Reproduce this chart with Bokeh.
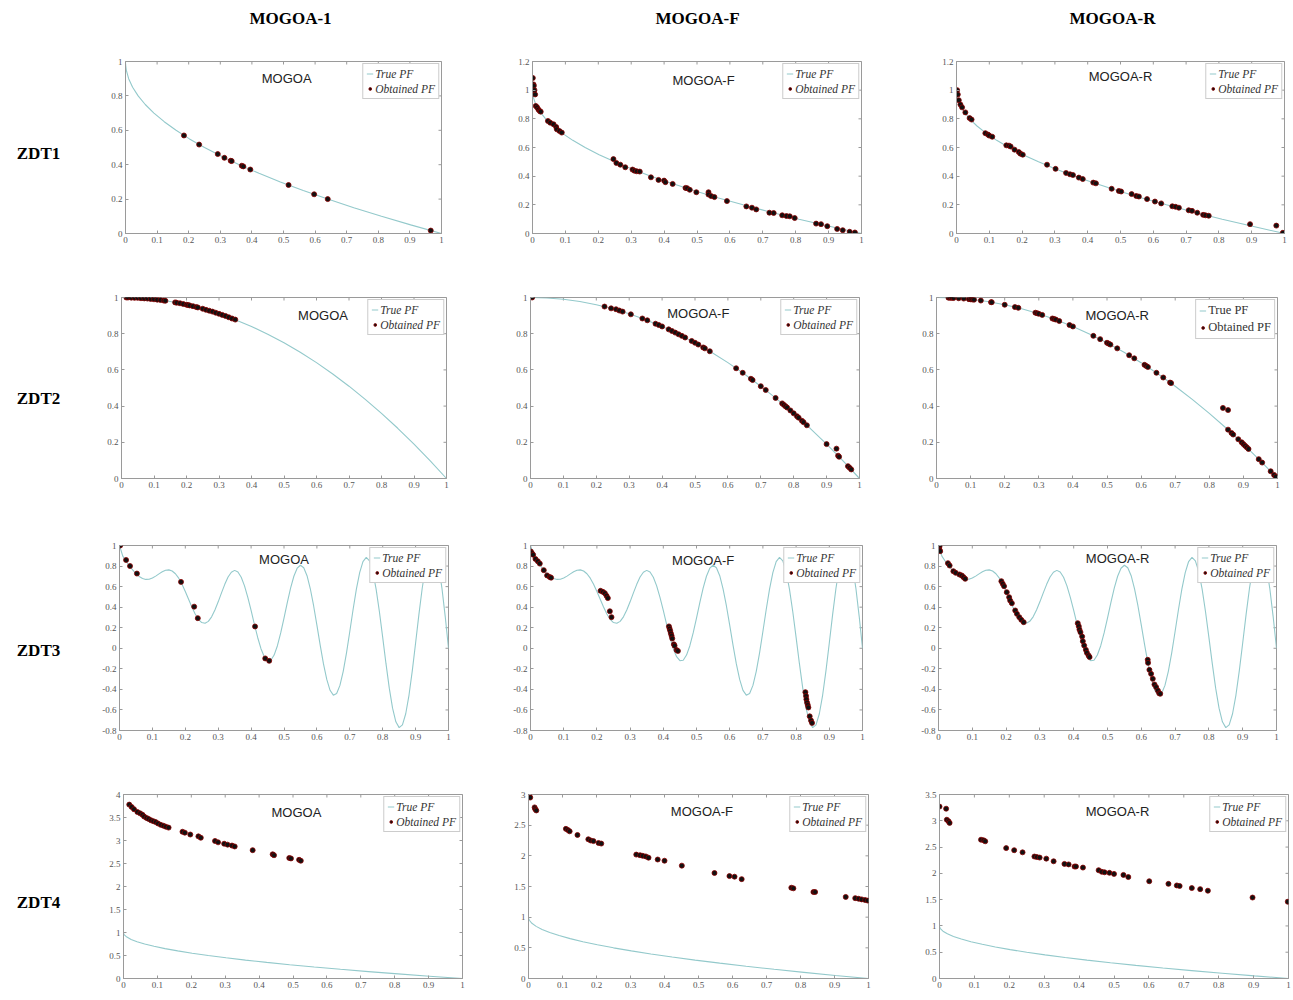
import math
from bokeh.plotting import figure
from bokeh.layouts import column, row
from bokeh.models import Range1d, FixedTicker, Legend, LegendItem, Label
from bokeh.core.properties import value
from bokeh.embed import file_html
from bokeh.resources import INLINE

# ---------------- data ----------------
col_titles = ["MOGOA-1", "MOGOA-F", "MOGOA-R"]
row_titles = ["ZDT1", "ZDT2", "ZDT3", "ZDT4"]
panel_names = ["MOGOA", "MOGOA-F", "MOGOA-R"]
legend_labels = ["True PF", "Obtained PF"]

x_ticks = [0.0, 0.1, 0.2, 0.3, 0.4, 0.5, 0.6, 0.7, 0.8, 0.9, 1.0]
x_tick_labels = ["0", "0.1", "0.2", "0.3", "0.4", "0.5", "0.6", "0.7", "0.8", "0.9", "1"]
y_ticks_1 = [0.0, 0.2, 0.4, 0.6, 0.8, 1.0]
y_tick_labels_1 = ["0", "0.2", "0.4", "0.6", "0.8", "1"]
y_ticks_12 = [0.0, 0.2, 0.4, 0.6, 0.8, 1.0, 1.2]
y_tick_labels_12 = ["0", "0.2", "0.4", "0.6", "0.8", "1", "1.2"]
y_ticks_z3 = [-0.8, -0.6, -0.4, -0.2, 0.0, 0.2, 0.4, 0.6, 0.8, 1.0]
y_tick_labels_z3 = ["-0.8", "-0.6", "-0.4", "-0.2", "0", "0.2", "0.4", "0.6", "0.8", "1"]
y_ticks_4 = [0.0, 0.5, 1.0, 1.5, 2.0, 2.5, 3.0, 3.5, 4.0]
y_tick_labels_4 = ["0", "0.5", "1", "1.5", "2", "2.5", "3", "3.5", "4"]
y_ticks_3 = [0.0, 0.5, 1.0, 1.5, 2.0, 2.5, 3.0]
y_tick_labels_3 = ["0", "0.5", "1", "1.5", "2", "2.5", "3"]
y_ticks_35 = [0.0, 0.5, 1.0, 1.5, 2.0, 2.5, 3.0, 3.5]
y_tick_labels_35 = ["0", "0.5", "1", "1.5", "2", "2.5", "3", "3.5"]

# true Pareto fronts
convex_pf_x = [0, 0.0001, 0.0004, 0.0025, 0.01, 0.0225, 0.04, 0.0625, 0.09, 0.1225, 0.16,
               0.2025, 0.25, 0.3025, 0.36, 0.4225, 0.49, 0.5625, 0.64, 0.7225, 0.81, 0.9025, 1.0]
convex_pf_y = [1.0, 0.99, 0.98, 0.95, 0.9, 0.85, 0.8, 0.75, 0.7, 0.65, 0.6,
               0.55, 0.5, 0.45, 0.4, 0.35, 0.3, 0.25, 0.2, 0.15, 0.1, 0.05, 0.0]
concave_pf_x = [0, 0.05, 0.1, 0.15, 0.2, 0.25, 0.3, 0.35, 0.4, 0.45, 0.5,
                0.55, 0.6, 0.65, 0.7, 0.75, 0.8, 0.85, 0.9, 0.95, 1.0]
concave_pf_y = [1.0, 0.9975, 0.99, 0.9775, 0.96, 0.9375, 0.91, 0.8775, 0.84, 0.7975, 0.75,
                0.6975, 0.64, 0.5775, 0.51, 0.4375, 0.36, 0.2775, 0.19, 0.0975, 0.0]
zdt3_pf_x = [k / 100 for k in range(101)]
zdt3_pf_y = [1.000, 0.897, 0.847, 0.803, 0.762, 0.726, 0.698, 0.679, 0.670, 0.672,
             0.684, 0.702, 0.724, 0.745, 0.759, 0.763, 0.752, 0.725, 0.682, 0.623,
             0.553, 0.477, 0.402, 0.334, 0.282, 0.250, 0.243, 0.262, 0.306, 0.372,
             0.452, 0.539, 0.622, 0.693, 0.740, 0.758, 0.742, 0.691, 0.607, 0.496,
             0.368, 0.233, 0.105, -0.004, -0.082, -0.121, -0.116, -0.066, 0.025, 0.149,
             0.293, 0.444, 0.585, 0.701, 0.779, 0.808, 0.784, 0.706, 0.579, 0.414,
             0.225, 0.031, -0.152, -0.303, -0.409, -0.456, -0.440, -0.361, -0.224, -0.044,
             0.163, 0.377, 0.575, 0.736, 0.844, 0.884, 0.851, 0.745, 0.575, 0.355,
             0.106, -0.150, -0.388, -0.583, -0.715, -0.772, -0.745, -0.637, -0.455, -0.218,
             0.051, 0.327, 0.582, 0.788, 0.925, 0.975, 0.933, 0.800, 0.586, 0.311, 0.000]

# obtained fronts
zdt1_m1_x = [0.185, 0.233, 0.292, 0.313, 0.333, 0.336, 0.368, 0.373, 0.395, 0.516, 0.597, 0.640, 0.966]
zdt1_m1_y = [0.570, 0.517, 0.462, 0.440, 0.423, 0.421, 0.394, 0.390, 0.372, 0.282, 0.228, 0.200, 0.017]

zdt1_mf_x = [0.001, 0.003, 0.004, 0.006, 0.008, 0.010, 0.014, 0.018, 0.022, 0.025,
             0.047, 0.054, 0.064, 0.072, 0.074, 0.082, 0.089, 0.246, 0.255, 0.267,
             0.282, 0.304, 0.310, 0.317, 0.326, 0.360, 0.383, 0.400, 0.404, 0.426,
             0.465, 0.470, 0.478, 0.498, 0.535, 0.535, 0.543, 0.553, 0.591, 0.650,
             0.667, 0.680, 0.720, 0.733, 0.759, 0.772, 0.782, 0.797, 0.862, 0.877,
             0.896, 0.926, 0.943, 0.964, 0.980]
zdt1_mf_y = [1.085, 1.040, 1.030, 1.000, 0.970, 0.890, 0.880, 0.865, 0.855, 0.850,
             0.785, 0.773, 0.762, 0.743, 0.727, 0.715, 0.704, 0.519, 0.492, 0.480,
             0.462, 0.446, 0.438, 0.434, 0.432, 0.392, 0.374, 0.369, 0.358, 0.346,
             0.318, 0.316, 0.305, 0.288, 0.288, 0.272, 0.261, 0.254, 0.226, 0.189,
             0.180, 0.168, 0.145, 0.143, 0.127, 0.122, 0.120, 0.108, 0.069, 0.065,
             0.051, 0.032, 0.023, 0.012, 0.007]

zdt1_mr_x = [0.002, 0.004, 0.007, 0.012, 0.017, 0.027, 0.040, 0.046, 0.088, 0.096,
             0.100, 0.109, 0.152, 0.160, 0.165, 0.177, 0.190, 0.195, 0.202, 0.276,
             0.302, 0.334, 0.346, 0.355, 0.373, 0.385, 0.417, 0.425, 0.473, 0.495,
             0.502, 0.534, 0.548, 0.556, 0.581, 0.605, 0.624, 0.658, 0.668, 0.678,
             0.708, 0.718, 0.734, 0.752, 0.759, 0.769, 0.895, 0.975, 0.995]
zdt1_mr_y = [1.000, 0.970, 0.930, 0.900, 0.880, 0.845, 0.805, 0.795, 0.700, 0.690,
             0.683, 0.675, 0.615, 0.613, 0.607, 0.585, 0.568, 0.557, 0.550, 0.480,
             0.451, 0.422, 0.413, 0.408, 0.390, 0.380, 0.355, 0.350, 0.312, 0.297,
             0.293, 0.275, 0.262, 0.258, 0.240, 0.223, 0.210, 0.190, 0.186, 0.180,
             0.162, 0.158, 0.145, 0.130, 0.127, 0.124, 0.065, 0.055, 0.005]

zdt2_m1_x = [0.015, 0.02, 0.03, 0.04, 0.05, 0.06, 0.07, 0.08, 0.09, 0.10,
             0.11, 0.12, 0.13, 0.135, 0.165, 0.17, 0.18, 0.19, 0.20, 0.205,
             0.21, 0.22, 0.23, 0.235, 0.25, 0.26, 0.27, 0.28, 0.29, 0.30,
             0.31, 0.32, 0.33, 0.34, 0.35]
zdt2_m1_y = [1.000, 1.000, 0.999, 0.998, 0.998, 0.996, 0.995, 0.994, 0.992, 0.990,
             0.988, 0.986, 0.983, 0.982, 0.973, 0.971, 0.968, 0.964, 0.960, 0.958,
             0.956, 0.952, 0.947, 0.945, 0.938, 0.932, 0.927, 0.922, 0.916, 0.910,
             0.904, 0.898, 0.891, 0.884, 0.878]

zdt2_mf_x = [0.005, 0.225, 0.245, 0.26, 0.27, 0.28, 0.305, 0.34, 0.355, 0.38,
             0.39, 0.40, 0.42, 0.43, 0.44, 0.45, 0.46, 0.47, 0.49, 0.50,
             0.51, 0.525, 0.53, 0.545, 0.625, 0.645, 0.67, 0.675, 0.70, 0.715,
             0.745, 0.765, 0.77, 0.775, 0.78, 0.79, 0.80, 0.81, 0.815, 0.825,
             0.83, 0.84, 0.90, 0.93, 0.935, 0.938, 0.965, 0.97, 0.975]
zdt2_mf_y = [1.000, 0.950, 0.940, 0.935, 0.928, 0.922, 0.907, 0.884, 0.874, 0.855,
             0.848, 0.840, 0.824, 0.815, 0.806, 0.797, 0.788, 0.779, 0.760, 0.750,
             0.740, 0.724, 0.719, 0.703, 0.609, 0.584, 0.551, 0.544, 0.510, 0.489,
             0.445, 0.415, 0.407, 0.399, 0.392, 0.376, 0.360, 0.344, 0.336, 0.319,
             0.311, 0.294, 0.190, 0.165, 0.126, 0.120, 0.068, 0.059, 0.050]

zdt2_mr_x = [0.035, 0.040, 0.045, 0.050, 0.065, 0.080, 0.095, 0.100, 0.105, 0.110,
             0.130, 0.160, 0.162, 0.200, 0.230, 0.240, 0.290, 0.295, 0.300, 0.310,
             0.340, 0.345, 0.350, 0.360, 0.390, 0.400, 0.460, 0.480, 0.500, 0.505,
             0.510, 0.530, 0.565, 0.580, 0.610, 0.615, 0.620, 0.645, 0.665, 0.685,
             0.688, 0.840, 0.855, 0.855, 0.865, 0.870, 0.885, 0.895, 0.900, 0.905,
             0.910, 0.915, 0.945, 0.955, 0.980, 0.990, 0.995]
zdt2_mr_y = [0.999, 0.998, 0.998, 0.997, 0.996, 0.994, 0.991, 0.990, 0.989, 0.988,
             0.983, 0.974, 0.974, 0.960, 0.947, 0.943, 0.916, 0.913, 0.910, 0.904,
             0.884, 0.881, 0.878, 0.870, 0.848, 0.840, 0.788, 0.770, 0.750, 0.745,
             0.740, 0.719, 0.681, 0.664, 0.628, 0.622, 0.616, 0.584, 0.558, 0.530,
             0.527, 0.390, 0.378, 0.270, 0.252, 0.243, 0.217, 0.200, 0.190, 0.181,
             0.172, 0.163, 0.107, 0.088, 0.040, 0.020, 0.010]

zdt3_m1_x = [0.002, 0.020, 0.032, 0.053, 0.187, 0.227, 0.238, 0.412, 0.443, 0.455]
zdt3_m1_y = [1.000, 0.859, 0.800, 0.727, 0.646, 0.405, 0.293, 0.212, -0.099, -0.122]

zdt3_mf_x = [0.001, 0.004, 0.008, 0.015, 0.022, 0.028, 0.040, 0.050, 0.058, 0.062,
             0.211, 0.218, 0.224, 0.229, 0.233, 0.239, 0.244,
             0.417, 0.419, 0.421, 0.423, 0.425, 0.427, 0.432, 0.434, 0.440, 0.444,
             0.828, 0.830, 0.831, 0.833, 0.835, 0.837, 0.841, 0.845, 0.848]
zdt3_mf_y = [0.942, 0.926, 0.910, 0.869, 0.847, 0.824, 0.760, 0.709, 0.693, 0.687,
             0.559, 0.549, 0.536, 0.511, 0.488, 0.360, 0.303,
             0.213, 0.191, 0.169, 0.143, 0.121, 0.095, 0.038, 0.025, -0.017, -0.026,
             -0.427, -0.464, -0.496, -0.528, -0.551, -0.576, -0.662, -0.703, -0.726]

zdt3_mr_x = [0.003, 0.003, 0.005, 0.028, 0.033, 0.044, 0.051, 0.062, 0.069, 0.074, 0.079,
             0.186, 0.190, 0.194, 0.202, 0.209, 0.212, 0.217, 0.227, 0.232, 0.239, 0.245, 0.252,
             0.412, 0.415, 0.417, 0.420, 0.425, 0.427, 0.431, 0.436, 0.439, 0.444, 0.447,
             0.619, 0.620, 0.624, 0.629, 0.634, 0.639, 0.644, 0.649, 0.653, 0.656]
zdt3_mr_y = [0.990, 0.958, 0.945, 0.828, 0.805, 0.750, 0.734, 0.718, 0.708, 0.692, 0.676,
             0.653, 0.627, 0.604, 0.546, 0.497, 0.465, 0.439, 0.368, 0.335, 0.303, 0.277, 0.254,
             0.244, 0.215, 0.183, 0.157, 0.115, 0.069, 0.027, -0.015, -0.044, -0.070, -0.086,
             -0.112, -0.142, -0.210, -0.249, -0.297, -0.352, -0.378, -0.411, -0.437, -0.443]

zdt4_m1_x = [0.017, 0.024, 0.031, 0.041, 0.049, 0.056, 0.061, 0.068, 0.074, 0.081,
             0.088, 0.095, 0.102, 0.110, 0.118, 0.125, 0.133, 0.174, 0.181, 0.197,
             0.221, 0.228, 0.270, 0.279, 0.297, 0.307, 0.320, 0.328, 0.381, 0.440,
             0.444, 0.489, 0.494, 0.518, 0.523]
zdt4_m1_y = [3.78, 3.73, 3.68, 3.62, 3.59, 3.56, 3.52, 3.49, 3.47, 3.44,
             3.42, 3.40, 3.37, 3.34, 3.32, 3.30, 3.28, 3.19, 3.17, 3.13,
             3.09, 3.06, 2.99, 2.96, 2.93, 2.91, 2.89, 2.87, 2.79, 2.70,
             2.68, 2.62, 2.61, 2.58, 2.56]

zdt4_mf_x = [0.000, 0.003, 0.005, 0.018, 0.020, 0.023, 0.110, 0.116, 0.121, 0.144,
             0.176, 0.183, 0.191, 0.206, 0.214, 0.317, 0.328, 0.336, 0.345, 0.353,
             0.380, 0.400, 0.451, 0.547, 0.591, 0.606, 0.627, 0.773, 0.779, 0.838,
             0.843, 0.933, 0.961, 0.971, 0.980, 0.990, 0.998]
zdt4_mf_y = [3.00, 2.97, 2.95, 2.79, 2.76, 2.74, 2.44, 2.42, 2.40, 2.34,
             2.27, 2.25, 2.24, 2.21, 2.20, 2.02, 2.01, 2.00, 1.99, 1.97,
             1.94, 1.92, 1.84, 1.72, 1.67, 1.66, 1.62, 1.48, 1.47, 1.41,
             1.41, 1.33, 1.31, 1.30, 1.29, 1.28, 1.27]

zdt4_mr_x = [0.000, 0.019, 0.021, 0.026, 0.029, 0.119, 0.126, 0.131, 0.191, 0.214,
             0.238, 0.272, 0.279, 0.287, 0.306, 0.327, 0.358, 0.370, 0.387, 0.391,
             0.411, 0.456, 0.465, 0.473, 0.487, 0.500, 0.527, 0.541, 0.601, 0.656,
             0.680, 0.688, 0.723, 0.747, 0.769, 0.897, 0.998]
zdt4_mr_y = [3.27, 3.23, 3.02, 2.99, 2.96, 2.64, 2.63, 2.61, 2.48, 2.44,
             2.40, 2.32, 2.31, 2.30, 2.28, 2.23, 2.18, 2.17, 2.13, 2.13,
             2.11, 2.06, 2.03, 2.02, 2.01, 1.99, 1.97, 1.93, 1.85, 1.80,
             1.77, 1.76, 1.72, 1.70, 1.67, 1.54, 1.46]

# ---------------- styling / layout ----------------
PF_COLOR = "#93c9cb"
AX_COLOR = "#9a9a9a"
SERIF = "Liberation Serif"

panels = [
    # (pf x, pf y, pts x, pts y, y range, y ticks, y labels, name pos, italic legend)
    [(convex_pf_x, convex_pf_y, zdt1_m1_x, zdt1_m1_y, (0, 1), y_ticks_1, y_tick_labels_1, (0.51, 0.10), True),
     (convex_pf_x, convex_pf_y, zdt1_mf_x, zdt1_mf_y, (0, 1.2), y_ticks_12, y_tick_labels_12, (0.52, 0.11), True),
     (convex_pf_x, convex_pf_y, zdt1_mr_x, zdt1_mr_y, (0, 1.2), y_ticks_12, y_tick_labels_12, (0.50, 0.09), True)],
    [(concave_pf_x, concave_pf_y, zdt2_m1_x, zdt2_m1_y, (0, 1), y_ticks_1, y_tick_labels_1, (0.62, 0.10), True),
     (concave_pf_x, concave_pf_y, zdt2_mf_x, zdt2_mf_y, (0, 1), y_ticks_1, y_tick_labels_1, (0.51, 0.09), True),
     (concave_pf_x, concave_pf_y, zdt2_mr_x, zdt2_mr_y, (0, 1), y_ticks_1, y_tick_labels_1, (0.53, 0.10), False)],
    [(zdt3_pf_x, zdt3_pf_y, zdt3_m1_x, zdt3_m1_y, (-0.8, 1), y_ticks_z3, y_tick_labels_z3, (0.50, 0.075), True),
     (zdt3_pf_x, zdt3_pf_y, zdt3_mf_x, zdt3_mf_y, (-0.8, 1), y_ticks_z3, y_tick_labels_z3, (0.52, 0.08), True),
     (zdt3_pf_x, zdt3_pf_y, zdt3_mr_x, zdt3_mr_y, (-0.8, 1), y_ticks_z3, y_tick_labels_z3, (0.53, 0.07), True)],
    [(convex_pf_x, convex_pf_y, zdt4_m1_x, zdt4_m1_y, (0, 4), y_ticks_4, y_tick_labels_4, (0.51, 0.10), True),
     (convex_pf_x, convex_pf_y, zdt4_mf_x, zdt4_mf_y, (0, 3), y_ticks_3, y_tick_labels_3, (0.51, 0.09), True),
     (convex_pf_x, convex_pf_y, zdt4_mr_x, zdt4_mr_y, (0, 3.5), y_ticks_35, y_tick_labels_35, (0.51, 0.09), True)],
]

LABEL_W = 90
COL_W = [402, 413, 388]
ROW_H = [222, 246, 249, 243]
HEADER_H = 40
# per row, per column: (left, right, top, bottom) borders
BORDERS = [
    [(35, 51, 17, 29), (40, 44, 20, 29), (51, 9, 21, 29)],
    [(31, 46, 30, 30), (38, 46, 35, 30), (31, 16, 32, 30)],
    [(29, 44, 35, 27), (38, 43, 34, 27), (33, 17, 37, 27)],
    [(33, 30, 33, 15), (36, 37, 32, 18), (34, 5, 37, 22)],
]
ROW_LABEL_POS = [(38, 119), (38, 137), (38, 141), (38, 142)]
HEADER_X = [290, 697, 1112]


def style_axis(ax):
    ax.axis_line_color = AX_COLOR
    ax.major_tick_line_color = AX_COLOR
    ax.major_tick_in = 3
    ax.major_tick_out = 0
    ax.minor_tick_line_color = None
    ax.major_label_text_font = SERIF
    ax.major_label_text_font_size = "9px"
    ax.major_label_text_color = "#555555"
    ax.major_label_standoff = 3


def make_panel(spec, w, h, bl, br, bt, bb, name):
    pfx, pfy, px, py, yr, yt, ytl, npos, italic = spec
    p = figure(width=w, height=h, x_range=Range1d(0, 1), y_range=Range1d(yr[0], yr[1]),
               output_backend="svg", toolbar_location=None,
               min_border_left=bl, min_border_right=br, min_border_top=bt, min_border_bottom=bb)
    p.xgrid.visible = False
    p.ygrid.visible = False
    p.outline_line_color = AX_COLOR
    p.xaxis.ticker = FixedTicker(ticks=x_ticks)
    p.xaxis.major_label_overrides = dict(zip(x_ticks, x_tick_labels))
    p.yaxis.ticker = FixedTicker(ticks=yt)
    p.yaxis.major_label_overrides = dict(zip(yt, ytl))
    style_axis(p.xaxis[0])
    style_axis(p.yaxis[0])

    # inward tick marks on the top and right edges of the box (half of each dash is clipped)
    p.scatter(x_ticks, [yr[1]] * len(x_ticks), marker="dash", size=6, angle=math.pi / 2,
              line_color=AX_COLOR, line_width=1)
    p.scatter([1.0] * len(yt), yt, marker="dash", size=6, angle=0,
              line_color=AX_COLOR, line_width=1)

    r_line = p.line(pfx, pfy, line_color=PF_COLOR, line_width=1.1)
    r_pts = p.scatter(px, py, size=5, fill_color="#111111", line_color="#8b0000", line_width=0.8)

    p.add_layout(Label(x=npos[0], y=yr[1] - npos[1] * (yr[1] - yr[0]), text=name,
                       text_align="center", text_baseline="middle",
                       text_font="Liberation Sans", text_font_size="13px", text_color="#222222"))

    leg = Legend(items=[LegendItem(label=legend_labels[0], renderers=[r_line]),
                        LegendItem(label=legend_labels[1], renderers=[r_pts])],
                 location="top_right")
    leg.label_text_font = SERIF
    leg.label_text_font_style = "italic" if italic else "normal"
    leg.label_text_font_size = "11.5px" if italic else "12.5px"
    leg.label_text_color = "#333333"
    leg.label_height = 13
    leg.glyph_height = 13
    leg.glyph_width = 7
    leg.label_standoff = 2
    leg.spacing = 2
    leg.padding = 3
    leg.margin = 2
    leg.border_line_color = AX_COLOR
    leg.background_fill_alpha = 1.0
    p.add_layout(leg)
    return p


def text_panel(w, h, xs, ys, texts):
    p = figure(width=w, height=h, x_range=Range1d(0, w), y_range=Range1d(h, 0),
               output_backend="svg", toolbar_location=None,
               x_axis_location=None, y_axis_location=None, min_border=0)
    p.xgrid.visible = False
    p.ygrid.visible = False
    p.outline_line_color = None
    p.text(x=xs, y=ys, text=texts, text_align="center", text_baseline="middle",
           text_font=value(SERIF), text_font_style="bold", text_font_size="17px",
           text_color="#000000")
    return p


header = text_panel(LABEL_W + sum(COL_W), HEADER_H, HEADER_X, [18, 18, 18], col_titles)

rows = []
for i in range(4):
    lx, ly = ROW_LABEL_POS[i]
    cells = [text_panel(LABEL_W, ROW_H[i], [lx], [ly], [row_titles[i]])]
    for j in range(3):
        bl, br, bt, bb = BORDERS[i][j]
        cells.append(make_panel(panels[i][j], COL_W[j], ROW_H[i], bl, br, bt, bb, panel_names[j]))
    rows.append(row(*cells))

layout = column(header, *rows)
open("out.html", "w").write(file_html(layout, INLINE, title="MOGOA Pareto fronts"))
